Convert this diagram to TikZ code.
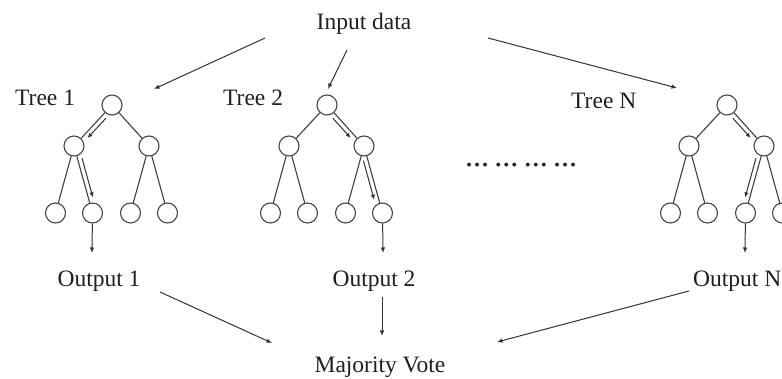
\documentclass[tikz,border=0pt]{standalone}
\usepackage{fontspec}
\setmainfont{Liberation Serif}
\usetikzlibrary{calc,arrows.meta}
% parallel decision arrow beside a tree edge: #1 from, #2 to, #3/#4 side angles
\newcommand\pathflow[4]{%
  \draw[flow] ($(#1)!14pt!(#2)!4.5pt!#3:(#2)$) -- ($(#2)!15pt!(#1)!4.5pt!#4:(#1)$);}
\begin{document}
\begin{tikzpicture}[x=1pt,y=-1pt,
  lbl/.style={font=\fontsize{23.5}{26}\selectfont, text=black!88, inner sep=0pt},
  nd/.style={circle, draw=black!72, line width=1.1pt, minimum size=20pt, inner sep=0pt},
  edge/.style={draw=black!75, line width=1.1pt},
  arr/.style={draw=black!80, line width=1pt, -{Latex[length=5.5pt,width=4.5pt]}},
  flow/.style={draw=black!80, line width=1pt, -{Latex[length=5pt,width=4.5pt]}}]
\useasboundingbox (0,0) rectangle (782,379);
\clip (0,0) rectangle (782,379);

% three decision trees
\foreach \t/\x in {1/112, 2/327, N/727} {
  \node[nd] (r\t) at (\x,105) {};
  \node[nd] (a\t) at (\x-38,146) {};
  \node[nd] (b\t) at (\x+37,146) {};
  \node[nd] (aa\t) at (\x-56.5,213) {};
  \node[nd] (ab\t) at (\x-19.5,213) {};
  \node[nd] (ba\t) at (\x+18.5,213) {};
  \node[nd] (bb\t) at (\x+55.5,213) {};
  \draw[edge] (r\t)--(a\t) (r\t)--(b\t) (a\t)--(aa\t) (a\t)--(ab\t)
              (b\t)--(ba\t) (b\t)--(bb\t);
}

% decision paths
\pathflow{r1}{a1}{90}{-90}
\pathflow{a1}{ab1}{90}{-90}
\pathflow{r2}{b2}{-90}{90}
\pathflow{b2}{bb2}{-90}{90}
\pathflow{rN}{bN}{-90}{90}
\pathflow{bN}{baN}{-90}{90}

% labels
\node[lbl, anchor=base] (input) at (364,30) {Input data};
\node[lbl, anchor=base west] (t1) at (15,106) {Tree 1};
\node[lbl, anchor=base west] (t2) at (223,106) {Tree 2};
\node[lbl, anchor=base west] (tN) at (571,109) {Tree N};
\node[lbl, anchor=base west, font=\fontsize{32}{34}\selectfont] (dots) at (465,167)
  {...\hspace{5.3pt}...\hspace{5.3pt}...\hspace{5.3pt}...};
\node[lbl, anchor=base] (o1) at (99,287) {Output 1};
\node[lbl, anchor=base] (o2) at (374,287) {Output 2};
\node[lbl, anchor=base west] (oN) at (693,287) {Output N};
\node[lbl, anchor=base] (mv) at (380,373) {Majority Vote};

% arrow end points
\coordinate (in1s) at (265,38);  \coordinate (in1e) at (154,89);
\coordinate (in2s) at (347,50);  \coordinate (in2e) at (328,89);
\coordinate (inNs) at (488,38);  \coordinate (inNe) at (677,88);
\coordinate (p1) at (92,253);
\coordinate (p2) at (383,253);
\coordinate (pN) at (745,253);
\coordinate (v1s) at (160,292);  \coordinate (v1e) at (272,343);
\coordinate (v2s) at (382,297);  \coordinate (v2e) at (382,336);
\coordinate (vNs) at (689,291);  \coordinate (vNe) at (497,342);

% input to trees
\draw[arr] (in1s) -- (in1e);
\draw[arr] (in2s) -- (in2e);
\draw[arr] (inNs) -- (inNe);

% leaves to outputs
\draw[arr] (ab1) -- (p1);
\draw[arr] (bb2) -- (p2);
\draw[arr] (baN) -- (pN);

% outputs to the vote
\draw[arr] (v1s) -- (v1e);
\draw[arr] (v2s) -- (v2e);
\draw[arr] (vNs) -- (vNe);
\end{tikzpicture}
\end{document}
